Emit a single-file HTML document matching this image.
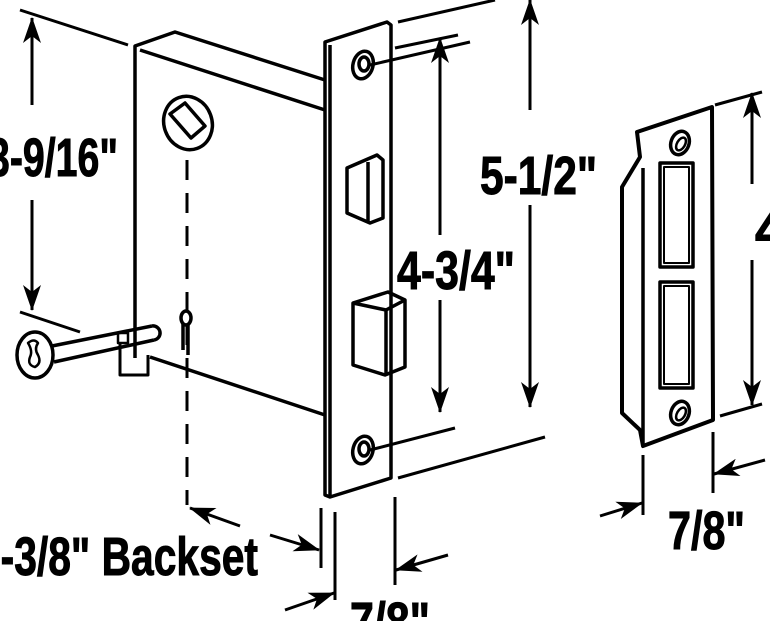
<!DOCTYPE html>
<html><head><style>
html,body{margin:0;padding:0;background:#fff;}
svg{display:block}
text{font-family:"Liberation Sans Narrow","Liberation Sans",sans-serif;font-weight:bold;fill:#000;stroke:#000;stroke-width:1}
</style></head><body>
<svg width="770" height="621" viewBox="0 0 770 621" xmlns="http://www.w3.org/2000/svg">
<defs>
<marker id="ah" viewBox="0 0 26 18" refX="25" refY="9" markerWidth="26" markerHeight="18" markerUnits="userSpaceOnUse" orient="auto">
<path d="M0,0 L26,9 L0,18 L7,9 Z" fill="#000"/>
</marker>
</defs>
<g fill="none" stroke="#000" stroke-width="3.5" stroke-linejoin="round">
<polyline points="135,358 135,46 175,32 325,80"/>
<line x1="140" y1="50" x2="325" y2="110"/>
<line x1="150" y1="357" x2="325" y2="415"/>
<ellipse cx="188" cy="123" rx="24" ry="27" transform="rotate(-20 188 123)"/>
<polygon points="170,114 185,103 205,126 191,138"/>
<line x1="187" y1="160" x2="187" y2="505" stroke-dasharray="20,13" stroke-width="3"/>
<ellipse cx="186" cy="318" rx="5" ry="7"/>
<line x1="183" y1="324" x2="183" y2="350"/>
<line x1="188" y1="324" x2="188" y2="355"/>
<ellipse cx="35" cy="355" rx="18" ry="23"/>
<path d="M28,343 q6,-5 10,0 q-4,6 0,12 q4,8 -3,12 q-8,-2 -5,-10 q3,-6 -2,-14z" stroke-width="2.5"/>
<line x1="52" y1="346" x2="152" y2="326"/>
<line x1="54" y1="362" x2="154" y2="340"/>
<path d="M152,326 a7,7 0 0 1 2,14"/>
<rect x="118" y="333" width="10" height="10" stroke-width="2.5"/>
<path d="M120,343 v32 h28 v-20" stroke-width="3"/>
<polygon points="325,42 387,22 391,25 391,478 330,497 325,495"/>
<line x1="330" y1="45" x2="330" y2="497"/>
<ellipse cx="363" cy="65" rx="10" ry="14" transform="rotate(15 363 65)"/>
<ellipse cx="364" cy="64" rx="5" ry="7"/>
<ellipse cx="363" cy="450" rx="10" ry="14" transform="rotate(15 363 450)"/>
<ellipse cx="364" cy="449" rx="5" ry="7"/>
<polygon points="347,168 377,155 383,160 383,218 370,223 347,213"/>
<line x1="368" y1="162" x2="368" y2="222"/>
<polygon points="353,303 388,292 405,300 405,367 385,375 353,365"/>
<polyline points="353,303 386,310 405,300"/>
<line x1="386" y1="310" x2="386" y2="375"/>
<polygon points="637,132 712,107 713,420 643,446 640,430 622,413 622,187 640,157" stroke-width="4"/>
<line x1="643" y1="168" x2="643" y2="446"/>
<rect x="660" y="163" width="33" height="104"/>
<rect x="664" y="167" width="25" height="96" stroke-width="2"/>
<rect x="660" y="282" width="33" height="106"/>
<rect x="664" y="286" width="25" height="98" stroke-width="2"/>
<ellipse cx="680" cy="143" rx="9" ry="12" transform="rotate(20 680 143)"/>
<ellipse cx="681" cy="144" rx="4" ry="7" transform="rotate(30 681 144)" stroke-width="2.5"/>
<ellipse cx="680" cy="413" rx="9" ry="12" transform="rotate(20 680 413)"/>
<ellipse cx="681" cy="414" rx="4" ry="7" transform="rotate(30 681 414)" stroke-width="2.5"/>
</g>
<g fill="none" stroke="#000" stroke-width="3">
<line x1="20" y1="10" x2="128" y2="45"/>
<line x1="20" y1="312" x2="80" y2="332"/>
<line x1="398" y1="22" x2="495" y2="0"/>
<line x1="395" y1="48" x2="458" y2="35"/>
<line x1="370" y1="65" x2="470" y2="42"/>
<line x1="370" y1="450" x2="455" y2="428"/>
<line x1="398" y1="478" x2="545" y2="437"/>
<line x1="715" y1="105" x2="762" y2="92"/>
<line x1="720" y1="416" x2="762" y2="404"/>
<line x1="643" y1="455" x2="643" y2="515"/>
<line x1="713" y1="432" x2="713" y2="493"/>
<line x1="321" y1="508" x2="321" y2="568"/>
<line x1="335" y1="512" x2="335" y2="600"/>
<line x1="395" y1="497" x2="395" y2="585"/>
<line x1="32" y1="105" x2="32" y2="18" marker-end="url(#ah)"/>
<line x1="32" y1="200" x2="32" y2="310" marker-end="url(#ah)"/>
<line x1="530" y1="110" x2="530" y2="0" marker-end="url(#ah)"/>
<line x1="530" y1="205" x2="530" y2="407" marker-end="url(#ah)"/>
<line x1="440" y1="235" x2="440" y2="38" marker-end="url(#ah)"/>
<line x1="440" y1="300" x2="440" y2="412" marker-end="url(#ah)"/>
<line x1="752" y1="184" x2="752" y2="93" marker-end="url(#ah)"/>
<line x1="752" y1="260" x2="752" y2="405" marker-end="url(#ah)"/>
<line x1="600" y1="516" x2="642" y2="503" marker-end="url(#ah)"/>
<line x1="765" y1="460" x2="714" y2="474" marker-end="url(#ah)"/>
<line x1="240" y1="526" x2="190" y2="508" marker-end="url(#ah)"/>
<line x1="270" y1="535" x2="319" y2="550" marker-end="url(#ah)"/>
<line x1="285" y1="610" x2="334" y2="593" marker-end="url(#ah)"/>
<line x1="448" y1="555" x2="396" y2="570" marker-end="url(#ah)"/>
</g>
<text x="-12" y="176" font-size="54" textLength="130" lengthAdjust="spacingAndGlyphs">3-9/16"</text>
<text x="480" y="194" font-size="54" textLength="117" lengthAdjust="spacingAndGlyphs">5-1/2"</text>
<text x="397" y="289" font-size="54" textLength="118" lengthAdjust="spacingAndGlyphs">4-3/4"</text>
<text x="755" y="248" font-size="54">4</text>
<text x="668" y="549" font-size="54" textLength="77" lengthAdjust="spacingAndGlyphs">7/8"</text>
<text x="-22" y="575" font-size="54" textLength="280" lengthAdjust="spacingAndGlyphs">2-3/8" Backset</text>
<text x="350" y="640" font-size="54" textLength="80" lengthAdjust="spacingAndGlyphs">7/8"</text>
</svg>
</body></html>
